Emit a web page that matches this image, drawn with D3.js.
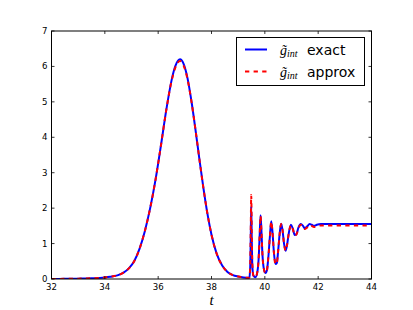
<!DOCTYPE html>
<html><head><meta charset="utf-8">
<script src="https://cdn.jsdelivr.net/npm/d3@7"></script>
<style>html,body{margin:0;padding:0;background:#fff;}svg{display:block;}</style>
</head><body>
<svg id="c" width="413" height="310"></svg>
<script>
// ---- data ----
const tValues = [32.0,32.5,33.0,33.5,34.0,34.2,34.5,34.7,34.9,35.1,35.3,35.5,35.7,35.9,36.1,36.3,36.5,36.65,36.82,36.95,37.1,37.25,37.4,37.55,37.7,37.85,38.0,38.2,38.4,38.6,38.8,39.0,39.2,39.38,
  39.42,39.45,39.47,39.49,39.51,39.53,39.57,39.65,39.72,39.77,39.81,39.84,39.87,39.91,39.96,40.02,40.08,40.13,40.19,40.24,40.29,40.34,40.40,40.45,40.50,40.56,40.61,40.66,40.72,40.78,40.83,40.90,40.98,41.05,41.12,41.18,41.26,41.35,41.43,41.50,41.58,41.68,41.76,41.84,41.95,42.1,42.5,43.0,43.5,44.0];
const gExact = [0.0,0.004,0.01,0.02,0.045,0.065,0.11,0.18,0.3,0.5,0.85,1.35,2.0,2.8,3.75,4.75,5.6,6.02,6.2,6.08,5.67,5.01,4.21,3.36,2.55,1.83,1.25,0.7,0.38,0.2,0.11,0.07,0.045,0.035,
  0.04,0.3,1.1,2.05,1.1,0.4,0.1,0.05,0.2,0.6,1.3,1.8,1.4,0.7,0.3,0.17,0.25,0.6,1.2,1.63,1.3,0.75,0.42,0.45,0.8,1.3,1.56,1.4,1.0,0.8,0.95,1.3,1.53,1.42,1.24,1.26,1.45,1.55,1.5,1.43,1.48,1.55,1.53,1.5,1.53,1.55,1.55,1.55,1.55,1.55];
const gApprox = [0.0,0.004,0.01,0.02,0.045,0.065,0.11,0.18,0.3,0.5,0.85,1.35,2.0,2.8,3.75,4.75,5.58,5.98,6.15,6.03,5.64,5.0,4.21,3.36,2.55,1.83,1.25,0.7,0.38,0.2,0.11,0.07,0.045,0.035,
  0.04,0.35,1.3,2.37,1.3,0.45,0.1,0.05,0.2,0.6,1.3,1.78,1.4,0.7,0.3,0.17,0.25,0.6,1.2,1.62,1.3,0.75,0.42,0.45,0.8,1.3,1.55,1.4,1.0,0.8,0.95,1.3,1.52,1.41,1.23,1.25,1.43,1.53,1.48,1.41,1.45,1.52,1.5,1.47,1.49,1.51,1.51,1.51,1.51,1.51];
const xTicks = [32,34,36,38,40,42,44];
const yTicks = [0,1,2,3,4,5,6,7];
const seriesNames = ["exact","approx"];

const svg = d3.select("#c");
const x = d3.scaleLinear().domain([32,44]).range([51.5,371.5]);
const y = d3.scaleLinear().domain([0,7]).range([279,31]);

const clip = svg.append("clipPath").attr("id","clp").append("rect")
  .attr("x",x(32)).attr("y",y(7)).attr("width",x(44)-x(32)).attr("height",y(0)-y(7));

const line = (vals) => d3.line().x((d,i)=>x(tValues[i])).y(d=>y(d)).curve(d3.curveMonotoneX)(vals);

const g = svg.append("g").attr("clip-path","url(#clp)");
g.append("path").attr("d",line(gExact)).attr("fill","none").attr("stroke","#0000ff").attr("stroke-width",2);
g.append("path").attr("d",line(gApprox)).attr("fill","none").attr("stroke","#ff0000").attr("stroke-width",2).attr("stroke-dasharray","4.3,4.3");

// ticks (inside, all four sides)
const tl = 3;
const tf = "'DejaVu Sans', sans-serif";
xTicks.forEach(v=>{
  svg.append("line").attr("x1",x(v)).attr("x2",x(v)).attr("y1",y(0)).attr("y2",y(0)-tl).attr("stroke","#000").attr("stroke-width",0.8);
  svg.append("line").attr("x1",x(v)).attr("x2",x(v)).attr("y1",y(7)).attr("y2",y(7)+tl).attr("stroke","#000").attr("stroke-width",0.8);
  svg.append("text").attr("x",x(v)).attr("y",y(0)+10.5).attr("text-anchor","middle")
    .attr("font-family",tf).attr("font-size",8.6).text(v);
});
yTicks.forEach(v=>{
  svg.append("line").attr("x1",x(32)).attr("x2",x(32)+tl).attr("y1",y(v)).attr("y2",y(v)).attr("stroke","#000").attr("stroke-width",0.8);
  svg.append("line").attr("x1",x(44)).attr("x2",x(44)-tl).attr("y1",y(v)).attr("y2",y(v)).attr("stroke","#000").attr("stroke-width",0.8);
  svg.append("text").attr("x",x(32)-4).attr("y",y(v)+3).attr("text-anchor","end")
    .attr("font-family",tf).attr("font-size",8.6).text(v);
});
// frame
svg.append("rect").attr("x",x(32)).attr("y",y(7)).attr("width",x(44)-x(32)).attr("height",y(0)-y(7))
  .attr("fill","none").attr("stroke","#000").attr("stroke-width",1);

// x label
svg.append("text").attr("x",(x(32)+x(44))/2).attr("y",305).attr("text-anchor","middle")
  .attr("font-family","'Liberation Serif', serif").attr("font-style","italic").attr("font-size",15).text("t");

// legend
const lg = svg.append("g");
lg.append("rect").attr("x",236.5).attr("y",37.5).attr("width",128).attr("height",48)
  .attr("fill","#fff").attr("stroke","#000").attr("stroke-width",1);
const styles = [{c:"#0000ff",d:null},{c:"#ff0000",d:"4.3,4.3"}];
seriesNames.forEach((name,i)=>{
  const cy = 49.5 + i*22;
  lg.append("line").attr("x1",245).attr("x2",267).attr("y1",cy).attr("y2",cy)
    .attr("stroke",styles[i].c).attr("stroke-width",2).attr("stroke-dasharray",styles[i].d);
  const t = lg.append("text").attr("x",280).attr("y",cy+5).attr("font-size",14);
  t.append("tspan").attr("font-family","'Liberation Serif', serif").attr("font-style","italic").text("g\u0303");
  t.append("tspan").attr("font-family","'Liberation Serif', serif").attr("font-style","italic").attr("font-size",10).attr("dy",2.5).text("int");
  t.append("tspan").attr("font-family",tf).attr("dy",-2.5).attr("x",307).text(name);
});
</script>
</body></html>
